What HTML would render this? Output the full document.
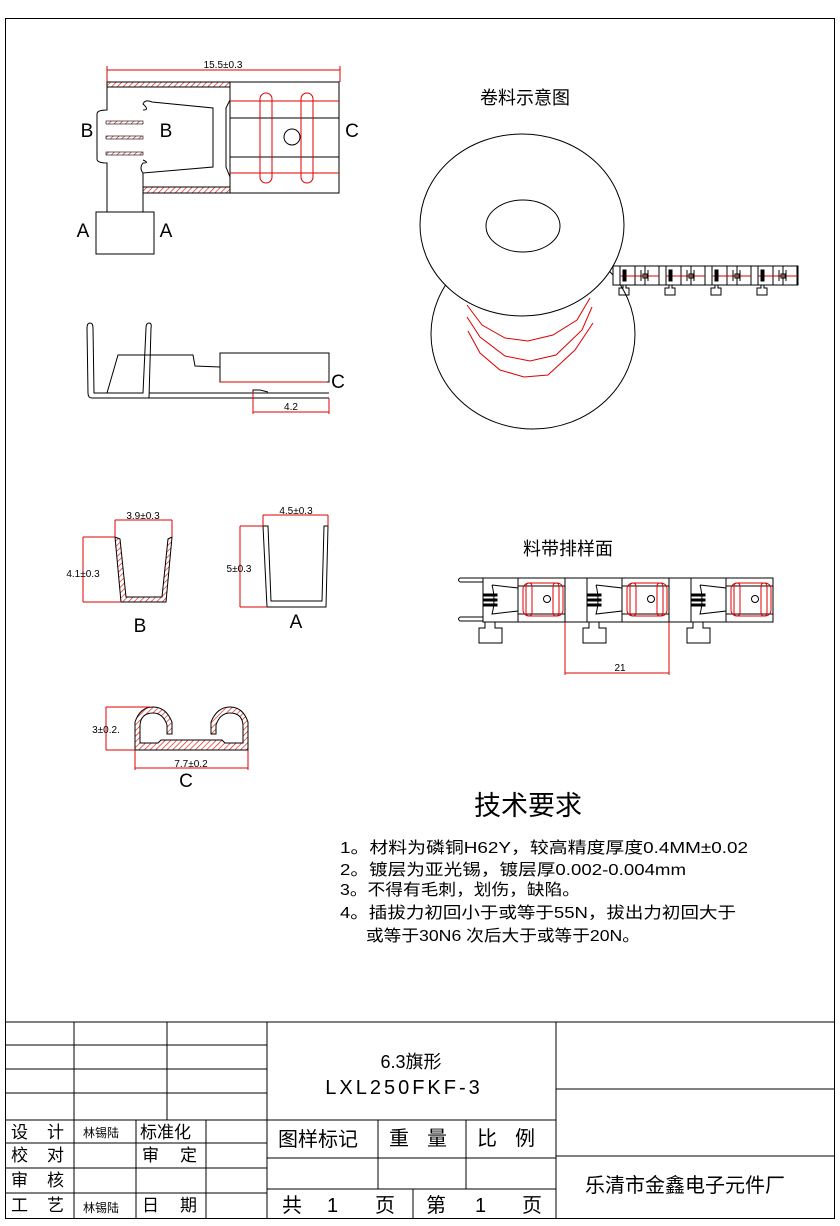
<!DOCTYPE html>
<html><head><meta charset="utf-8"><style>
html,body{margin:0;padding:0;background:#fff}
svg{display:block}
text{font-family:"Liberation Sans","Noto Sans CJK SC",sans-serif;fill:#000}
.c{font-family:"Noto Sans CJK SC","WenQuanYi Zen Hei",sans-serif}
</style></head><body>
<svg width="840" height="1226" viewBox="0 0 840 1226" xmlns="http://www.w3.org/2000/svg">
<defs>
<pattern id="h" patternUnits="userSpaceOnUse" width="4" height="4" patternTransform="rotate(45)">
<rect width="4" height="4" fill="#fff"/><line x1="0" y1="0" x2="0" y2="4" stroke="#d00" stroke-width="1.2"/></pattern>
</defs>
<g fill="none" stroke="#000" stroke-width="1">
<rect x="5.5" y="18.5" width="829" height="1200"/>
<!-- top view -->
<line x1="107" y1="70" x2="340" y2="70" stroke="#d00"/>
<line x1="107" y1="66" x2="107" y2="82" stroke="#d00"/><line x1="340" y1="66" x2="340" y2="82" stroke="#d00"/>
<rect x="107" y="82" width="123" height="5" fill="url(#h)" stroke="#000"/>
<rect x="230" y="82" width="109" height="111"/>
<path d="M107 87 V110 Q97 110 97 114 V159 Q97 163 107 163 V212 M143 212 V173"/>
<rect x="96" y="212" width="58" height="42"/>
<rect x="143" y="187" width="87" height="6" fill="url(#h)" stroke="#000"/>
<path d="M143 110 Q150 110 143 104 Q145 99 152 102 L213 108 V167 L143 173 Q139 168 143 163 Q150 163 143 160"/>
<path d="M230 100 L226 108 V167 L230 177"/>
<line x1="230" y1="118" x2="339" y2="118"/><line x1="230" y1="157" x2="339" y2="157"/>
<line x1="230" y1="101" x2="339" y2="101" stroke="#d00"/><line x1="230" y1="173" x2="339" y2="173" stroke="#d00"/>
<rect x="260" y="93" width="12" height="90" rx="6" stroke="#d00"/>
<rect x="301" y="93" width="12" height="90" rx="6" stroke="#d00"/>
<circle cx="292" cy="137" r="8"/>
<rect x="106" y="121" width="37" height="3" fill="url(#h)" stroke="#000" stroke-width=".6"/>
<rect x="106" y="136" width="37" height="3" fill="url(#h)" stroke="#000" stroke-width=".6"/>
<rect x="106" y="152" width="37" height="3" fill="url(#h)" stroke="#000" stroke-width=".6"/>
<!-- side view -->
<path d="M87 328 Q87 323 90 323 Q93 323 93 328 L94 393 L143 393 L146 328 Q146 323 149 323 Q152 323 151 328 L149 398 L92 398 Q88 398 88 393 Z"/>
<line x1="149" y1="393" x2="329" y2="393"/><line x1="149" y1="398" x2="329" y2="398"/>
<path d="M107 393 L118 355 L193 355 L195 366 L220 367"/>
<rect x="220" y="353" width="109" height="29"/>
<line x1="220" y1="382" x2="327" y2="382" stroke="#d00"/>
<path d="M253 392 V390 H260 L268 392"/>
<line x1="253" y1="392" x2="253" y2="414" stroke="#d00"/><line x1="329" y1="398" x2="329" y2="414" stroke="#d00"/>
<line x1="253" y1="412" x2="329" y2="412" stroke="#d00"/>
<!-- reel -->
<ellipse cx="533" cy="334" rx="102" ry="95"/>
<ellipse cx="522" cy="225" rx="102" ry="91" fill="#fff"/>
<ellipse cx="523" cy="226" rx="37" ry="26"/>
<path stroke="#d00" d="M467 305 L482 325 L505 338 L528 341 L553 335 L577 320 L590 298"/>
<path stroke="#d00" d="M467 317 L480 337 L505 356 L530 361 L556 355 L582 330 L592 307"/>
<path stroke="#d00" d="M468 331 L480 353 L500 370 L524 377 L548 375 L575 350 L593 323"/>
<rect x="613" y="266" width="185" height="19" fill="#fff"/>
<g id="su">
<rect x="620" y="266" width="25" height="19"/><rect x="635" y="266" width="24" height="19"/>
<line x1="620" y1="276" x2="659" y2="276" stroke="#d00"/>
<path d="M623 285 V288 H619 V295 H629 V288 H626 V285"/>
<line x1="641" y1="270" x2="641" y2="281"/><line x1="648" y1="270" x2="648" y2="281"/>
<rect x="643" y="274" width="4" height="4"/>
<rect x="623" y="270" width="3" height="11" fill="#000"/>
</g>
<use href="#su" x="46"/><use href="#su" x="92"/><use href="#su" x="138"/>
<!-- strip bottom -->
<path d="M460 582 H483 M460 617 H483 M460 582 Q457 580 460 578 H483 M460 617 Q457 619 460 621 H483"/>
<line x1="483" y1="578" x2="773" y2="578"/><line x1="483" y1="622" x2="773" y2="622"/>
<g id="bu">
<rect x="483" y="578" width="35" height="44"/>
<rect x="518" y="578" width="47" height="44"/>
<line x1="518" y1="586" x2="565" y2="586"/><line x1="518" y1="614" x2="565" y2="614"/>
<path d="M492 585 L518 588 V611 L492 614 Q496 600 492 585"/>
<rect x="483" y="594" width="14" height="2" fill="#000"/><rect x="483" y="599" width="14" height="2" fill="#000"/><rect x="483" y="604" width="14" height="2" fill="#000"/>
<path d="M485 622 V628 H479 V643 H502 V628 H495 V622"/>
<rect x="523" y="583" width="40" height="33" rx="6" stroke="#d00"/>
<rect x="526" y="583" width="6" height="33" rx="3" stroke="#d00"/>
<rect x="553" y="583" width="6" height="33" rx="3" stroke="#d00"/>
<circle cx="547" cy="599" r="3.5"/>
</g>
<use href="#bu" x="104"/><use href="#bu" x="208" />
<line x1="565" y1="622" x2="565" y2="675" stroke="#d00"/><line x1="669" y1="622" x2="669" y2="675" stroke="#d00"/>
<line x1="565" y1="673" x2="669" y2="673" stroke="#d00"/>
<!-- section B -->
<path d="M115 537 L121 602 L166 602 L172 537 L168 539 L162 597 L126 597 L120 539 Z" fill="url(#h)"/>
<line x1="115" y1="520" x2="172" y2="520" stroke="#d00"/><line x1="115" y1="520" x2="115" y2="537" stroke="#d00"/><line x1="172" y1="520" x2="172" y2="537" stroke="#d00"/>
<line x1="83" y1="537" x2="83" y2="602" stroke="#d00"/><line x1="83" y1="537" x2="115" y2="537" stroke="#d00"/><line x1="83" y1="602" x2="121" y2="602" stroke="#d00"/>
<!-- section A -->
<path d="M263 526 L267 607 L326 607 L328 526 L324 526 L322 601 L271 601 L268 526 Z"/>
<line x1="263" y1="515" x2="328" y2="515" stroke="#d00"/><line x1="263" y1="515" x2="263" y2="526" stroke="#d00"/><line x1="328" y1="515" x2="328" y2="526" stroke="#d00"/>
<line x1="240" y1="526" x2="240" y2="607" stroke="#d00"/><line x1="240" y1="526" x2="263" y2="526" stroke="#d00"/><line x1="240" y1="607" x2="267" y2="607" stroke="#d00"/>
<!-- section C -->
<path d="M135 750 L135 722 Q140 707 153 707 Q166 707 172 722 L172 734 L167 734 L167 725 Q163 713 153 713 Q141 713 140 725 L140 743 L158 743 L161 740 L222 740 L225 743 L243 743 L243 725 Q242 713 230 713 Q220 713 216 725 L216 734 L211 734 L211 722 Q217 707 230 707 Q243 707 248 722 L248 750 Z" fill="url(#h)"/>
<line x1="106" y1="707" x2="106" y2="750" stroke="#d00"/><line x1="106" y1="707" x2="150" y2="707" stroke="#d00"/><line x1="106" y1="750" x2="135" y2="750" stroke="#d00"/>
<line x1="135" y1="768" x2="248" y2="768" stroke="#d00"/><line x1="135" y1="750" x2="135" y2="770" stroke="#d00"/><line x1="248" y1="750" x2="248" y2="770" stroke="#d00"/>
<!-- title block -->
<line x1="5" y1="1022" x2="834" y2="1022"/>
<line x1="5" y1="1045" x2="267" y2="1045"/><line x1="5" y1="1069" x2="267" y2="1069"/><line x1="5" y1="1093" x2="267" y2="1093"/>
<line x1="5" y1="1120" x2="556" y2="1120"/><line x1="5" y1="1143" x2="267" y2="1143"/><line x1="5" y1="1168" x2="267" y2="1168"/><line x1="5" y1="1193" x2="267" y2="1193"/>
<line x1="74" y1="1022" x2="74" y2="1218"/><line x1="167" y1="1022" x2="167" y2="1120"/>
<line x1="136" y1="1120" x2="136" y2="1218"/><line x1="206" y1="1120" x2="206" y2="1218"/>
<line x1="267" y1="1022" x2="267" y2="1218"/><line x1="556" y1="1022" x2="556" y2="1218"/>
<line x1="267" y1="1158" x2="556" y2="1158"/><line x1="267" y1="1189" x2="556" y2="1189"/>
<line x1="378" y1="1120" x2="378" y2="1189"/><line x1="466" y1="1120" x2="466" y2="1189"/><line x1="413" y1="1189" x2="413" y2="1218"/>
<line x1="556" y1="1089" x2="834" y2="1089"/><line x1="556" y1="1156" x2="834" y2="1156"/>
</g>
<g font-size="10" text-anchor="middle">
<text x="223" y="68">15.5±0.3</text>
<text x="291" y="410">4.2</text>
<text x="143" y="519">3.9±0.3</text>
<text x="83" y="577">4.1±0.3</text>
<text x="296" y="514">4.5±0.3</text>
<text x="239" y="572">5±0.3</text>
<text x="106" y="733">3±0.2.</text>
<text x="191" y="767">7.7±0.2</text>
<text x="620" y="671">21</text>
</g>
<g font-size="19" text-anchor="middle">
<text x="87" y="137">B</text><text x="166" y="137">B</text><text x="352" y="137">C</text>
<text x="83" y="237">A</text><text x="166" y="237">A</text>
<text x="338" y="388">C</text>
<text x="140" y="632">B</text><text x="296" y="628">A</text><text x="186" y="787">C</text>
</g>
<g class="c">
<text x="525" y="104" font-size="18" text-anchor="middle">卷料示意图</text>
<text x="568" y="555" font-size="18" text-anchor="middle">料带排样面</text>
<text x="528" y="815" font-size="27" text-anchor="middle">技术要求</text>
<g font-size="16">
<text x="340" y="853" textLength="408" lengthAdjust="spacingAndGlyphs">1。材料为磷铜H62Y，较高精度厚度0.4MM±0.02</text>
<text x="340" y="875" textLength="346" lengthAdjust="spacingAndGlyphs">2。镀层为亚光锡，镀层厚0.002-0.004mm</text>
<text x="340" y="895" textLength="240" lengthAdjust="spacingAndGlyphs">3。不得有毛刺，划伤，缺陷。</text>
<text x="340" y="918" textLength="396" lengthAdjust="spacingAndGlyphs">4。插拔力初回小于或等于55N，拔出力初回大于</text>
<text x="366" y="941" textLength="274" lengthAdjust="spacingAndGlyphs">或等于30N6 次后大于或等于20N。</text>
</g>
<text x="411" y="1068" font-size="18" text-anchor="middle">6.3旗形</text>
<text x="404" y="1094" font-size="20" text-anchor="middle" letter-spacing="3">LXL250FKF-3</text>
<g font-size="17">
<text x="11" y="1138">设</text><text x="47" y="1138">计</text>
<text x="11" y="1161">校</text><text x="47" y="1161">对</text>
<text x="11" y="1186">审</text><text x="47" y="1186">核</text>
<text x="11" y="1211">工</text><text x="47" y="1211">艺</text>
<text x="140" y="1138">标准化</text>
<text x="142" y="1161">审</text><text x="180" y="1161">定</text>
<text x="142" y="1211">日</text><text x="180" y="1211">期</text>
</g>
<text x="83" y="1137" font-size="12">林锡陆</text>
<text x="83" y="1212" font-size="12">林锡陆</text>
<g font-size="20">
<text x="278" y="1146">图样标记</text>
<text x="389" y="1145">重</text><text x="427" y="1145">量</text>
<text x="477" y="1145">比</text><text x="515" y="1145">例</text>
<text x="282" y="1212">共</text><text x="327" y="1212">1</text><text x="375" y="1212">页</text>
<text x="426" y="1212">第</text><text x="475" y="1212">1</text><text x="522" y="1212">页</text>
<text x="585" y="1192">乐清市金鑫电子元件厂</text>
</g>
</g>
</svg>
</body></html>
